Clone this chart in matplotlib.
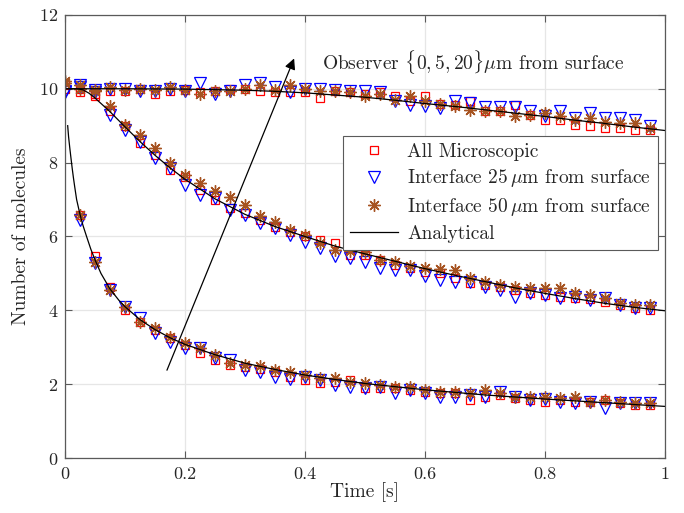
import matplotlib
matplotlib.use("Agg")
import matplotlib.pyplot as plt

plt.rcParams['font.family'] = 'serif'
plt.rcParams['font.serif'] = ['cmr10', 'DejaVu Serif']
plt.rcParams['mathtext.fontset'] = 'cm'
plt.rcParams['axes.formatter.use_mathtext'] = True
plt.rcParams['axes.unicode_minus'] = False

# ---- data ----
t_markers = [0.0, 0.025, 0.05, 0.075, 0.1, 0.125, 0.15, 0.175, 0.2, 0.225,
             0.25, 0.275, 0.3, 0.325, 0.35, 0.375, 0.4, 0.425, 0.45, 0.475,
             0.5, 0.525, 0.55, 0.575, 0.6, 0.625, 0.65, 0.675, 0.7, 0.725,
             0.75, 0.775, 0.8, 0.825, 0.85, 0.875, 0.9, 0.925, 0.95, 0.975]
t_markers_low = t_markers[1:]

# observer at 20 um (top)
sq_top = [10.0, 9.9, 9.85, 9.93, 9.93, 10.0, 9.85, 9.93, 9.97, 9.9, 9.93, 10.0, 10.0, 9.93,
          9.9, 9.9, 9.9, 9.75, 9.93, 9.9, 9.85, 9.9, 9.8, 9.66, 9.8, 9.6, 9.55, 9.66, 9.4,
          9.4, 9.57, 9.3, 9.16, 9.16, 9.02, 8.98, 8.93, 8.93, 8.89, 8.89]
tri_top = [9.9, 10.1, 9.97, 10.0, 10.0, 9.93, 9.93, 10.0, 9.93, 10.15, 9.85, 9.93, 10.1, 10.15,
           10.05, 9.9, 10.0, 10.0, 9.97, 9.93, 9.93, 9.9, 9.66, 9.57, 9.52, 9.48, 9.66, 9.62,
           9.5, 9.5, 9.5, 9.4, 9.25, 9.4, 9.2, 9.34, 9.2, 9.2, 9.16, 8.98]
ast_top = [10.2, 10.1, 9.97, 10.05, 9.97, 10.0, 9.97, 10.05, 9.97, 9.85, 9.93, 9.93, 10.0, 10.1,
           9.97, 10.1, 10.0, 9.95, 9.93, 9.9, 9.8, 9.85, 9.7, 9.8, 9.66, 9.6, 9.52, 9.43, 9.4,
           9.4, 9.25, 9.3, 9.35, 9.25, 9.16, 9.2, 9.11, 9.07, 9.07, 8.93]

# observer at 5 um (middle)
sq_mid = [10.1, 10.0, 9.8, 9.39, 8.98, 8.53, 8.21, 7.8, 7.62, 7.26, 6.99, 6.77, 6.63, 6.45,
          6.27, 6.13, 6.0, 5.91, 5.82, 5.5, 5.5, 5.37, 5.23, 5.14, 5.05, 5.0, 4.87, 4.73, 4.69,
          4.64, 4.55, 4.46, 4.42, 4.37, 4.33, 4.3, 4.24, 4.15, 4.06, 4.01]
tri_mid = [9.95, 10.05, 9.9, 9.3, 8.89, 8.57, 8.12, 7.85, 7.4, 7.13, 7.04, 6.72, 6.59, 6.36,
           6.22, 6.04, 5.86, 5.68, 5.46, 5.41, 5.3, 5.14, 5.09, 5.09, 4.93, 4.82, 4.78, 4.78,
           4.64, 4.55, 4.37, 4.46, 4.42, 4.33, 4.37, 4.28, 4.33, 4.15, 4.06, 4.06]
ast_mid = [10.15, 10.0, 9.95, 9.52, 9.02, 8.75, 8.39, 7.98, 7.67, 7.44, 7.22, 7.08, 6.86, 6.56,
           6.4, 6.18, 6.04, 5.82, 5.64, 5.6, 5.59, 5.37, 5.3, 5.2, 5.16, 5.12, 5.09, 4.87, 4.78,
           4.69, 4.64, 4.6, 4.6, 4.6, 4.46, 4.42, 4.33, 4.19, 4.15, 4.15]

# observer at 0 um (bottom)
sq_low = [6.59, 5.46, 4.64, 4.01, 3.69, 3.47, 3.24, 3.06, 2.84, 2.66, 2.52, 2.47, 2.42, 2.34,
          2.2, 2.11, 2.02, 2.06, 2.11, 1.89, 1.89, 1.89, 1.84, 1.8, 1.75, 1.75, 1.57, 1.66, 1.7,
          1.62, 1.57, 1.53, 1.57, 1.53, 1.53, 1.57, 1.48, 1.44, 1.44]
tri_low = [6.45, 5.28, 4.55, 4.1, 3.79, 3.38, 3.15, 2.97, 2.97, 2.7, 2.66, 2.38, 2.34, 2.2,
           2.15, 2.2, 2.11, 1.98, 1.93, 1.89, 1.93, 1.75, 1.84, 1.75, 1.66, 1.66, 1.7, 1.66, 1.8,
           1.66, 1.57, 1.6, 1.53, 1.48, 1.53, 1.35, 1.48, 1.48, 1.48]
ast_low = [6.59, 5.32, 4.55, 4.1, 3.69, 3.51, 3.29, 3.11, 2.97, 2.79, 2.57, 2.52, 2.5, 2.38,
           2.34, 2.25, 2.16, 2.16, 2.07, 2.02, 1.98, 1.93, 1.93, 1.84, 1.8, 1.8, 1.75, 1.84, 1.75,
           1.66, 1.66, 1.66, 1.62, 1.66, 1.53, 1.57, 1.53, 1.48, 1.48]

# analytical curves
t_an_top = [0.0, 0.1, 0.2, 0.3, 0.35, 0.4, 0.45, 0.5, 0.55, 0.6, 0.65, 0.7, 0.75, 0.8, 0.85,
            0.9, 0.95, 1.0]
y_an_top = [10.0, 10.0, 9.99, 9.96, 9.93, 9.89, 9.83, 9.77, 9.69, 9.6, 9.52, 9.43, 9.34, 9.25,
            9.15, 9.06, 8.96, 8.87]
t_an_mid = [0.0, 0.02, 0.03, 0.04, 0.05, 0.075, 0.1, 0.125, 0.15, 0.175, 0.2, 0.25, 0.3, 0.35,
            0.4, 0.45, 0.5, 0.55, 0.6, 0.65, 0.7, 0.75, 0.8, 0.85, 0.9, 0.95, 1.0]
y_an_mid = [10.0, 10.0, 9.97, 9.88, 9.75, 9.38, 8.97, 8.57, 8.2, 7.86, 7.55, 7.02, 6.6, 6.27,
            6.0, 5.74, 5.53, 5.33, 5.13, 4.95, 4.78, 4.61, 4.46, 4.32, 4.19, 4.08, 3.99]
t_an_low = [0.0045, 0.006, 0.008, 0.010, 0.012, 0.014, 0.016, 0.0194, 0.025, 0.03, 0.036, 0.043,
            0.05, 0.06, 0.075, 0.09, 0.1, 0.125, 0.15, 0.175, 0.2, 0.25, 0.3, 0.35, 0.4, 0.45,
            0.5, 0.6, 0.7, 0.8, 0.9, 1.0]
y_an_low = [9.0, 8.7, 8.4, 8.12, 7.85, 7.6, 7.37, 7.0, 6.6, 6.3, 6.0, 5.66, 5.37, 5.0, 4.58,
            4.27, 4.1, 3.75, 3.48, 3.26, 3.08, 2.8, 2.57, 2.4, 2.25, 2.13, 2.02, 1.85, 1.71,
            1.6, 1.5, 1.4]

x_ticks = [0, 0.2, 0.4, 0.6, 0.8, 1]
x_ticklabels = ['0', '0.2', '0.4', '0.6', '0.8', '1']
y_ticks = [0, 2, 4, 6, 8, 10, 12]

red = '#FF0000'
blue = '#0000FF'
brown = '#A65321'
dark = '#262626'

fig = plt.figure(figsize=(6.84, 5.13), dpi=100)
ax = fig.add_axes([0.095, 0.107, 0.877, 0.864])

sq_kw = dict(linestyle='none', marker='s', markersize=6.2, markerfacecolor='none',
             markeredgecolor=red, markeredgewidth=0.9)
tri_kw = dict(linestyle='none', marker='v', markersize=8.0, markerfacecolor='none',
              markeredgecolor=blue, markeredgewidth=0.9)
ast_kw = dict(linestyle='none', marker=(8, 2, 0), markersize=8.8, markerfacecolor='none',
              markeredgecolor=brown, markeredgewidth=1.0)

ax.plot(t_markers, sq_top, label='All Microscopic', **sq_kw)
ax.plot(t_markers, sq_mid, **sq_kw)
ax.plot(t_markers_low, sq_low, **sq_kw)
ax.plot(t_markers, tri_top, label=r'Interface 25$\,\mu$m from surface', **tri_kw)
ax.plot(t_markers, tri_mid, **tri_kw)
ax.plot(t_markers_low, tri_low, **tri_kw)
ax.plot(t_markers, ast_top, label=r'Interface 50$\,\mu$m from surface', **ast_kw)
ax.plot(t_markers, ast_mid, **ast_kw)
ax.plot(t_markers_low, ast_low, **ast_kw)

ax.plot(t_an_top, y_an_top, color='k', lw=0.9, label='Analytical')
ax.plot(t_an_mid, y_an_mid, color='k', lw=0.9)
ax.plot(t_an_low, y_an_low, color='k', lw=0.9)

ax.annotate('', xy=(0.382, 10.82), xytext=(0.17, 2.38),
            arrowprops=dict(arrowstyle='-|>', color='k', lw=0.9, mutation_scale=16,
                            shrinkA=0, shrinkB=0))
ax.text(0.428, 10.73, r'Observer $\{0,5,20\}\mu$m from surface', fontsize=14,
        ha='left', va='center', color=dark)

ax.set_xlim(0, 1)
ax.set_ylim(0, 12)
ax.set_xticks(x_ticks)
ax.set_xticklabels(x_ticklabels)
ax.set_yticks(y_ticks)
ax.tick_params(direction='in', top=True, right=True, labelsize=13, length=5,
               width=0.8, colors='#5a5a5a', labelcolor=dark)
ax.tick_params(axis='x', pad=6)
ax.tick_params(axis='y', pad=5)
ax.grid(True, color='#E6E6E6', lw=0.9)
ax.set_axisbelow(True)
for s in ax.spines.values():
    s.set_linewidth(0.9)
    s.set_color('#5a5a5a')

ax.set_xlabel('Time [s]', fontsize=14, labelpad=0, color=dark)
ax.set_ylabel('Number of molecules', fontsize=14, labelpad=6, color=dark)

leg = ax.legend(loc='upper left', bbox_to_anchor=(0.463, 0.727), fontsize=14,
                frameon=True, fancybox=False, edgecolor='#5a5a5a', framealpha=1,
                borderpad=0.35, labelspacing=0.35, handlelength=2.5, handletextpad=0.45,
                borderaxespad=0)
leg.get_frame().set_linewidth(0.8)
for txt in leg.get_texts():
    txt.set_color(dark)

fig.savefig('out.png', dpi=100)
